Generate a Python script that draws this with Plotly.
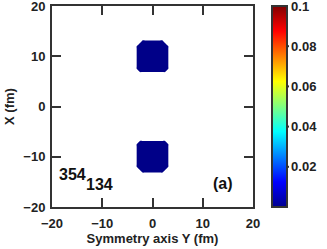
import numpy as np
import plotly.graph_objects as go

# ---- data ----
grid_step = 0.5                                   # fm
grid_x = np.arange(-20, 20 + grid_step / 2, grid_step)   # Symmetry axis Y (fm)
grid_y = np.arange(-20, 20 + grid_step / 2, grid_step)   # X (fm)
blob_centers_y = [10, -10]                        # fragment centres along X (fm)
blob_center_x = 0
blob_density_value = 0.005                        # density inside the fragments
# fragment outline: offset from centre away from the
# neck (fm) and half width of the filled region at that offset (fm)
blob_row_offset = [3.0, 2.5, 2.0, 1.5, 1.0, 0.5, 0.0, -0.5, -1.0, -1.5, -2.0, -2.5, -3.0]
blob_row_halfwidth = [2.0, 2.5, 3.0, 3.0, 3.0, 3.0, 3.0, 3.0, 3.0, 3.0, 3.0, 3.0, 2.5]
density_threshold = 0.0035
cbar_min, cbar_max = 0.0, 0.1
cbar_ticks = [0.02, 0.04, 0.06, 0.08, 0.0999]
cbar_ticktext = ["0.02", "0.04", "0.06", "0.08", "0.1"]
cbar_levels = [0.02, 0.04, 0.06, 0.08]
axis_ticks = [-20, -10, 0, 10, 20]
label_a = "(a)"
label_top = "354"
label_bottom = "134"

# ---- build density field ----
z = np.zeros((len(grid_y), len(grid_x)))
for cy in blob_centers_y:
    outward = 1 if cy > 0 else -1
    for off, hw in zip(blob_row_offset, blob_row_halfwidth):
        yv = cy + outward * off
        iy = int(np.argmin(np.abs(grid_y - yv)))
        cols = np.abs(grid_x - blob_center_x) <= hw + 1e-9
        z[iy, cols] = blob_density_value

jet = [
    [0.0, "rgb(0,0,143)"],
    [0.125, "rgb(0,0,255)"],
    [0.375, "rgb(0,255,255)"],
    [0.625, "rgb(255,255,0)"],
    [0.875, "rgb(255,0,0)"],
    [1.0, "rgb(128,0,0)"],
]

navy = "rgb(0,0,136)"
fig = go.Figure()
fig.add_trace(go.Contour(
    x=grid_x, y=grid_y, z=z,
    autocontour=False,
    contours=dict(start=density_threshold, end=density_threshold, size=0.01,
                  coloring="fill", showlines=False),
    line=dict(width=0),
    colorscale=[[0, "white"], [0.499, "white"], [0.501, navy], [1, navy]],
    showscale=False, hoverinfo="skip",
))

L, R, T, B = 52, 74, 6, 42
W, H = 327, 249
pw = W - L - R
cb_x = (272 - L) / pw
cb_w = 17 / pw

fig.add_trace(go.Scatter(
    x=[None], y=[None], mode="markers", showlegend=False,
    marker=dict(color=[0], colorscale=jet, cmin=cbar_min, cmax=cbar_max,
                showscale=True,
                colorbar=dict(x=cb_x, xanchor="left", xpad=0, ypad=0,
                              y=0.5, yanchor="middle", len=1, thickness=15,
                              outlinewidth=2, outlinecolor="#333333",
                              tickvals=cbar_ticks, ticktext=cbar_ticktext,
                              ticks="", ticklabeloverflow="allow",
                              tickfont=dict(family="Liberation Sans", size=13,
                                            color="#222", weight="bold"))),
))

for v in cbar_levels:
    yy = (v - cbar_min) / (cbar_max - cbar_min)
    fig.add_shape(type="line", xref="paper", yref="paper",
                  x0=cb_x, x1=cb_x + cb_w, y0=yy, y1=yy,
                  line=dict(color="#333333", width=2))

font = dict(family="Liberation Sans", size=13, color="#222", weight="bold")
axis_common = dict(range=[-20, 20], tickvals=axis_ticks, ticks="inside", ticklen=9,
                   tickwidth=2, tickcolor="#333333", showline=True, linewidth=2,
                   linecolor="#333333", mirror="ticks", showgrid=False, zeroline=False,
                   tickfont=font, automargin=False, ticklabeloverflow="allow")
fig.update_xaxes(**axis_common, title=dict(text="Symmetry axis Y (fm)", font=font, standoff=4),
                 ticklabelstandoff=3)
fig.update_yaxes(**axis_common, title=dict(text="X (fm)", font=font, standoff=6),
                 ticklabelstandoff=2)

ann_font = dict(family="Liberation Sans", size=16, color="#111", weight="bold")
fig.add_annotation(x=-16.0, y=-13.5, text=label_top, showarrow=False, font=ann_font)
fig.add_annotation(x=-10.45, y=-15.6, text=label_bottom, showarrow=False, font=ann_font)
fig.add_annotation(x=14.0, y=-15.4, text=label_a, showarrow=False, font=ann_font)

fig.update_layout(width=W, height=H, margin=dict(l=L, r=R, t=T, b=B, autoexpand=False),
                  plot_bgcolor="white", paper_bgcolor="white", showlegend=False)
fig.write_html("out.html", config={"displayModeBar": False},
               post_script="document.body.style.margin='0';")
